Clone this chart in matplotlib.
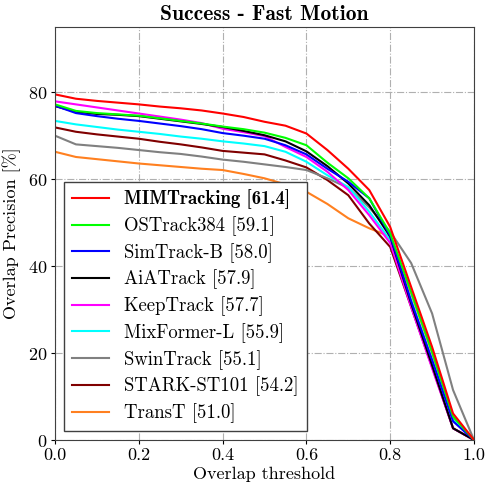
import numpy as np
import matplotlib
matplotlib.use("Agg")
import matplotlib.pyplot as plt

plt.rcParams['font.family'] = 'serif'
plt.rcParams['font.serif'] = ['cmr10', 'DejaVu Serif']
plt.rcParams['mathtext.fontset'] = 'cm'
plt.rcParams['axes.formatter.use_mathtext'] = True

thresholds = np.linspace(0, 1, 21)

names = ["MIMTracking [61.4]", "OSTrack384 [59.1]", "SimTrack-B [58.0]", "AiATrack [57.9]",
         "KeepTrack [57.7]", "MixFormer-L [55.9]", "SwinTrack [55.1]", "STARK-ST101 [54.2]",
         "TransT [51.0]"]
colors = ["#ff0000", "#00ff00", "#0000ff", "#000000", "#ff00ff", "#00ffff", "#808080",
          "#800000", "#ff8020"]

mim = [79.5, 78.5, 78.0, 77.6, 77.2, 76.7, 76.3, 75.8, 75.1, 74.3, 73.2, 72.3, 70.5, 66.7, 62.4, 57.5, 49.0, 35.2, 21.4, 6.1, 0]
ostrack = [77.2, 75.7, 75.2, 74.9, 74.6, 74.0, 73.4, 72.8, 72.1, 71.5, 70.7, 69.5, 67.8, 63.8, 60.2, 55.6, 47.5, 34.1, 20.3, 5.4, 0]
simtrack = [76.9, 75.2, 74.5, 73.9, 73.4, 72.8, 72.2, 71.5, 70.6, 70.0, 69.3, 67.8, 65.7, 62.4, 59.4, 55.6, 47.0, 31.9, 18.4, 4.3, 0]
aiatrack = [76.8, 75.5, 75.0, 74.8, 74.5, 73.9, 73.3, 72.7, 72.0, 71.1, 70.1, 68.7, 66.4, 63.0, 59.0, 54.0, 46.8, 31.4, 17.2, 2.7, 0]
keeptrack = [77.9, 77.2, 76.5, 75.8, 75.1, 74.4, 73.7, 72.9, 71.6, 70.8, 69.9, 67.4, 65.1, 61.7, 57.5, 51.7, 45.3, 30.6, 16.5, 2.7, 0]
mixformer = [73.4, 72.6, 72.0, 71.4, 70.9, 70.4, 69.8, 69.3, 68.7, 68.2, 67.6, 66.3, 64.0, 60.9, 58.2, 52.5, 46.0, 32.2, 18.4, 4.6, 0]
swintrack = [70.0, 68.0, 67.6, 67.2, 66.7, 66.2, 65.8, 65.2, 64.5, 64.0, 63.4, 62.8, 62.1, 60.2, 58.0, 53.5, 47.9, 40.7, 29.1, 11.5, 0]
stark = [71.9, 70.9, 70.3, 69.8, 69.3, 68.6, 68.0, 67.3, 66.5, 66.1, 65.7, 64.3, 62.7, 59.8, 56.3, 49.8, 44.4, 30.6, 16.8, 2.7, 0]
transt = [66.3, 65.1, 64.6, 64.1, 63.6, 63.2, 62.8, 62.4, 62.1, 61.2, 60.2, 58.8, 57.1, 54.3, 51.0, 48.7, 46.8, 33.6, 20.0, 5.0, 0]

series = [mim, ostrack, simtrack, aiatrack, keeptrack, mixformer, swintrack, stark, transt]

fig = plt.figure(figsize=(4.88, 4.90), dpi=100)
ax = fig.add_axes([55/488, 50/490, 419/488, 413/490])

handles = [None] * len(series)
for i in reversed(range(len(series))):
    h, = ax.plot(thresholds, series[i], color=colors[i], lw=1.5, label=names[i])
    handles[i] = h

ax.set_xlim(0, 1)
ax.set_ylim(0, 95)
ax.set_xticks([0, 0.2, 0.4, 0.6, 0.8, 1.0])
ax.set_xticklabels(["0.0", "0.2", "0.4", "0.6", "0.8", "1.0"])
ax.set_yticks([0, 20, 40, 60, 80])
ax.tick_params(labelsize=13, direction='out', length=3, pad=2.5)
ax.grid(True, color='#b0b0b0', linestyle='-.', linewidth=0.8)
for s in ax.spines.values():
    s.set_color('#404040')
ax.set_xlabel("Overlap threshold", fontsize=13, labelpad=2)
ax.set_ylabel("Overlap Precision [%]", fontsize=13, labelpad=5)
ax.set_title("Success - Fast Motion", fontsize=15.5, fontfamily='cmb10', pad=5)

leg = ax.legend(handles=handles, loc='lower left', fontsize=13.5, fancybox=False,
                framealpha=1, edgecolor='#404040', handlelength=2.0,
                borderaxespad=0.5, labelspacing=0.37, borderpad=0.4)
leg.get_frame().set_linewidth(1.0)
leg.get_texts()[0].set_fontfamily('cmb10')

fig.savefig("out.png", dpi=100)
